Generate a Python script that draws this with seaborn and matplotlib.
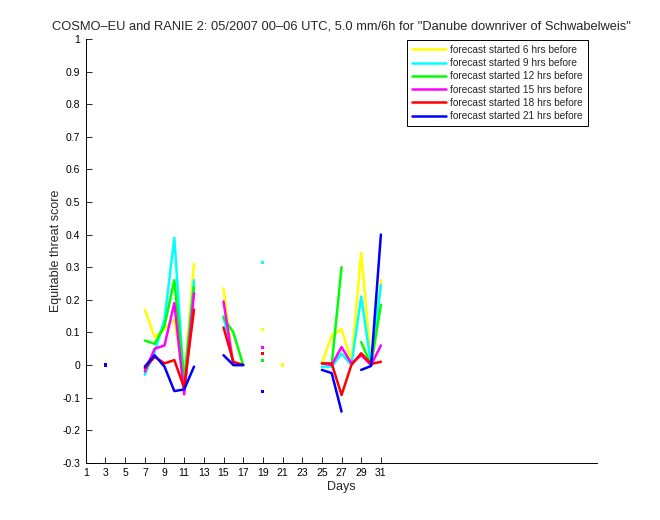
import numpy as np
import pandas as pd
import matplotlib
matplotlib.use("Agg")
import matplotlib.pyplot as plt
import seaborn as sns

nan = np.nan
days = list(range(1, 32))
series_labels = [
    "forecast started 6 hrs before",
    "forecast started 9 hrs before",
    "forecast started 12 hrs before",
    "forecast started 15 hrs before",
    "forecast started 18 hrs before",
    "forecast started 21 hrs before",
]
series_colors = ["#ffff00", "#00ffff", "#00ff00", "#ff00ff", "#ff0000", "#0000ff"]

#            1    2    3    4    5    6    7      8      9      10     11      12     13   14   15     16    17    18   19     20   21   22   23   24   25      26      27     28     29     30      31
ets_6h  = [nan, nan, nan, nan, nan, nan, 0.17,  0.085, 0.11,  0.14,  -0.045, 0.31,  nan, nan, 0.235, 0.0,  0.0,  nan, 0.11,  nan, 0.0, nan, nan, nan, 0.005,  0.09,   0.11,  0.01,  0.345, 0.005,  0.26]
ets_9h  = [nan, nan, nan, nan, nan, nan, -0.03, 0.04,  0.14,  0.39,  -0.06,  0.26,  nan, nan, 0.15,  0.0,  0.0,  nan, 0.315, nan, nan, nan, nan, nan, -0.005, -0.005, 0.035, 0.0,   0.21,  0.0,    0.245]
ets_12h = [nan, nan, nan, nan, nan, nan, 0.075, 0.065, 0.12,  0.26,  -0.05,  0.24,  nan, nan, 0.145, 0.10, 0.0,  nan, 0.015, nan, nan, nan, nan, nan, nan,    0.0,    0.30,  nan,   0.07,  0.0,    0.185]
ets_15h = [nan, nan, nan, nan, nan, nan, -0.02, 0.05,  0.06,  0.19,  -0.09,  0.22,  nan, nan, 0.195, 0.0,  0.0,  nan, 0.055, nan, nan, nan, nan, nan, 0.005,  0.0,    0.055, 0.005, 0.03,  0.0,    0.06]
ets_18h = [nan, nan, nan, nan, nan, nan, -0.01, 0.025, 0.005, 0.015, -0.07,  0.17,  nan, nan, 0.115, 0.01, 0.0,  nan, 0.035, nan, nan, nan, nan, nan, 0.005,  0.005,  -0.092, 0.0,  0.036, 0.003,  0.01]
ets_21h = [nan, nan, 0.0, nan, nan, nan, -0.005, 0.03, -0.005, -0.08, -0.075, -0.005, nan, nan, 0.03,  0.0,  0.0,  nan, -0.082, nan, nan, nan, nan, nan, -0.015, -0.025, -0.143, nan,  -0.015, -0.003, 0.40]

all_series = [ets_6h, ets_9h, ets_12h, ets_15h, ets_18h, ets_21h]

x_ticks = list(range(1, 32, 2))
y_ticks = [-0.3, -0.2, -0.1, 0, 0.1, 0.2, 0.3, 0.4, 0.5, 0.6, 0.7, 0.8, 0.9, 1]
y_tick_labels = ["-0.3", "-0.2", "-0.1", "0", "0.1", "0.2", "0.3", "0.4",
                 "0.5", "0.6", "0.7", "0.8", "0.9", "1"]

title = 'COSMO\u2013EU and RANIE 2: 05/2007 00\u201306 UTC, 5.0 mm/6h for "Danube downriver of Schwabelweis"'

# build long table with segment ids (gaps at NaN)
rows = []
for name, vals in zip(series_labels, all_series):
    seg = 0
    prev = False
    for d, v in zip(days, vals):
        if np.isnan(v):
            if prev:
                seg += 1
            prev = False
            continue
        rows.append((d, v, name, f"{name}#{seg}"))
        prev = True
df = pd.DataFrame(rows, columns=["day", "score", "series", "seg"])
seg_size = df.groupby("seg")["day"].transform("size")
single = df[seg_size == 1]

sns.set_style("ticks")
plt.rcParams["font.family"] = ["Liberation Sans", "DejaVu Sans"]

fig = plt.figure(figsize=(6.6, 5.2), dpi=100)
ax = fig.add_axes([0.13, 0.11, 0.775, 0.815])

palette = dict(zip(series_labels, series_colors))
sns.lineplot(data=df, x="day", y="score", hue="series", units="seg", estimator=None,
             hue_order=series_labels, palette=palette, lw=1.8, ax=ax, legend=True)
sns.scatterplot(data=single, x="day", y="score", hue="series", hue_order=series_labels,
                palette=palette, marker="s", s=5, linewidth=0, ax=ax, legend=False)

ax.set_xlim(1, 53)
ax.set_ylim(-0.3, 1)
ax.set_xticks(x_ticks)
ax.set_xticklabels([str(t) for t in x_ticks])
ax.set_yticks(y_ticks)
ax.set_yticklabels(y_tick_labels)
ax.tick_params(direction="in", length=4, width=0.6, labelsize=7.5, pad=4, colors="black")
for s in ["top", "right"]:
    ax.spines[s].set_visible(False)
for s in ["left", "bottom"]:
    ax.spines[s].set_linewidth(0.7)
    ax.spines[s].set_color("black")

ax.set_xlabel("Days", fontsize=9, labelpad=2)
ax.set_ylabel("Equitable threat score", fontsize=9, labelpad=0)
ax.set_title(title, fontsize=9.3, pad=7)

handles, labels = ax.get_legend_handles_labels()
leg = ax.legend(handles[:6], labels[:6], loc="upper right", bbox_to_anchor=(0.981, 0.997),
                borderaxespad=0, fontsize=7.3, frameon=True, fancybox=False, edgecolor="black",
                framealpha=1, handlelength=3.4, handletextpad=0.4, labelspacing=0.32,
                borderpad=0.45)
leg.get_frame().set_linewidth(0.7)
for h in leg.get_lines():
    h.set_linewidth(1.8)

fig.savefig("out.png", dpi=100, facecolor="white")
